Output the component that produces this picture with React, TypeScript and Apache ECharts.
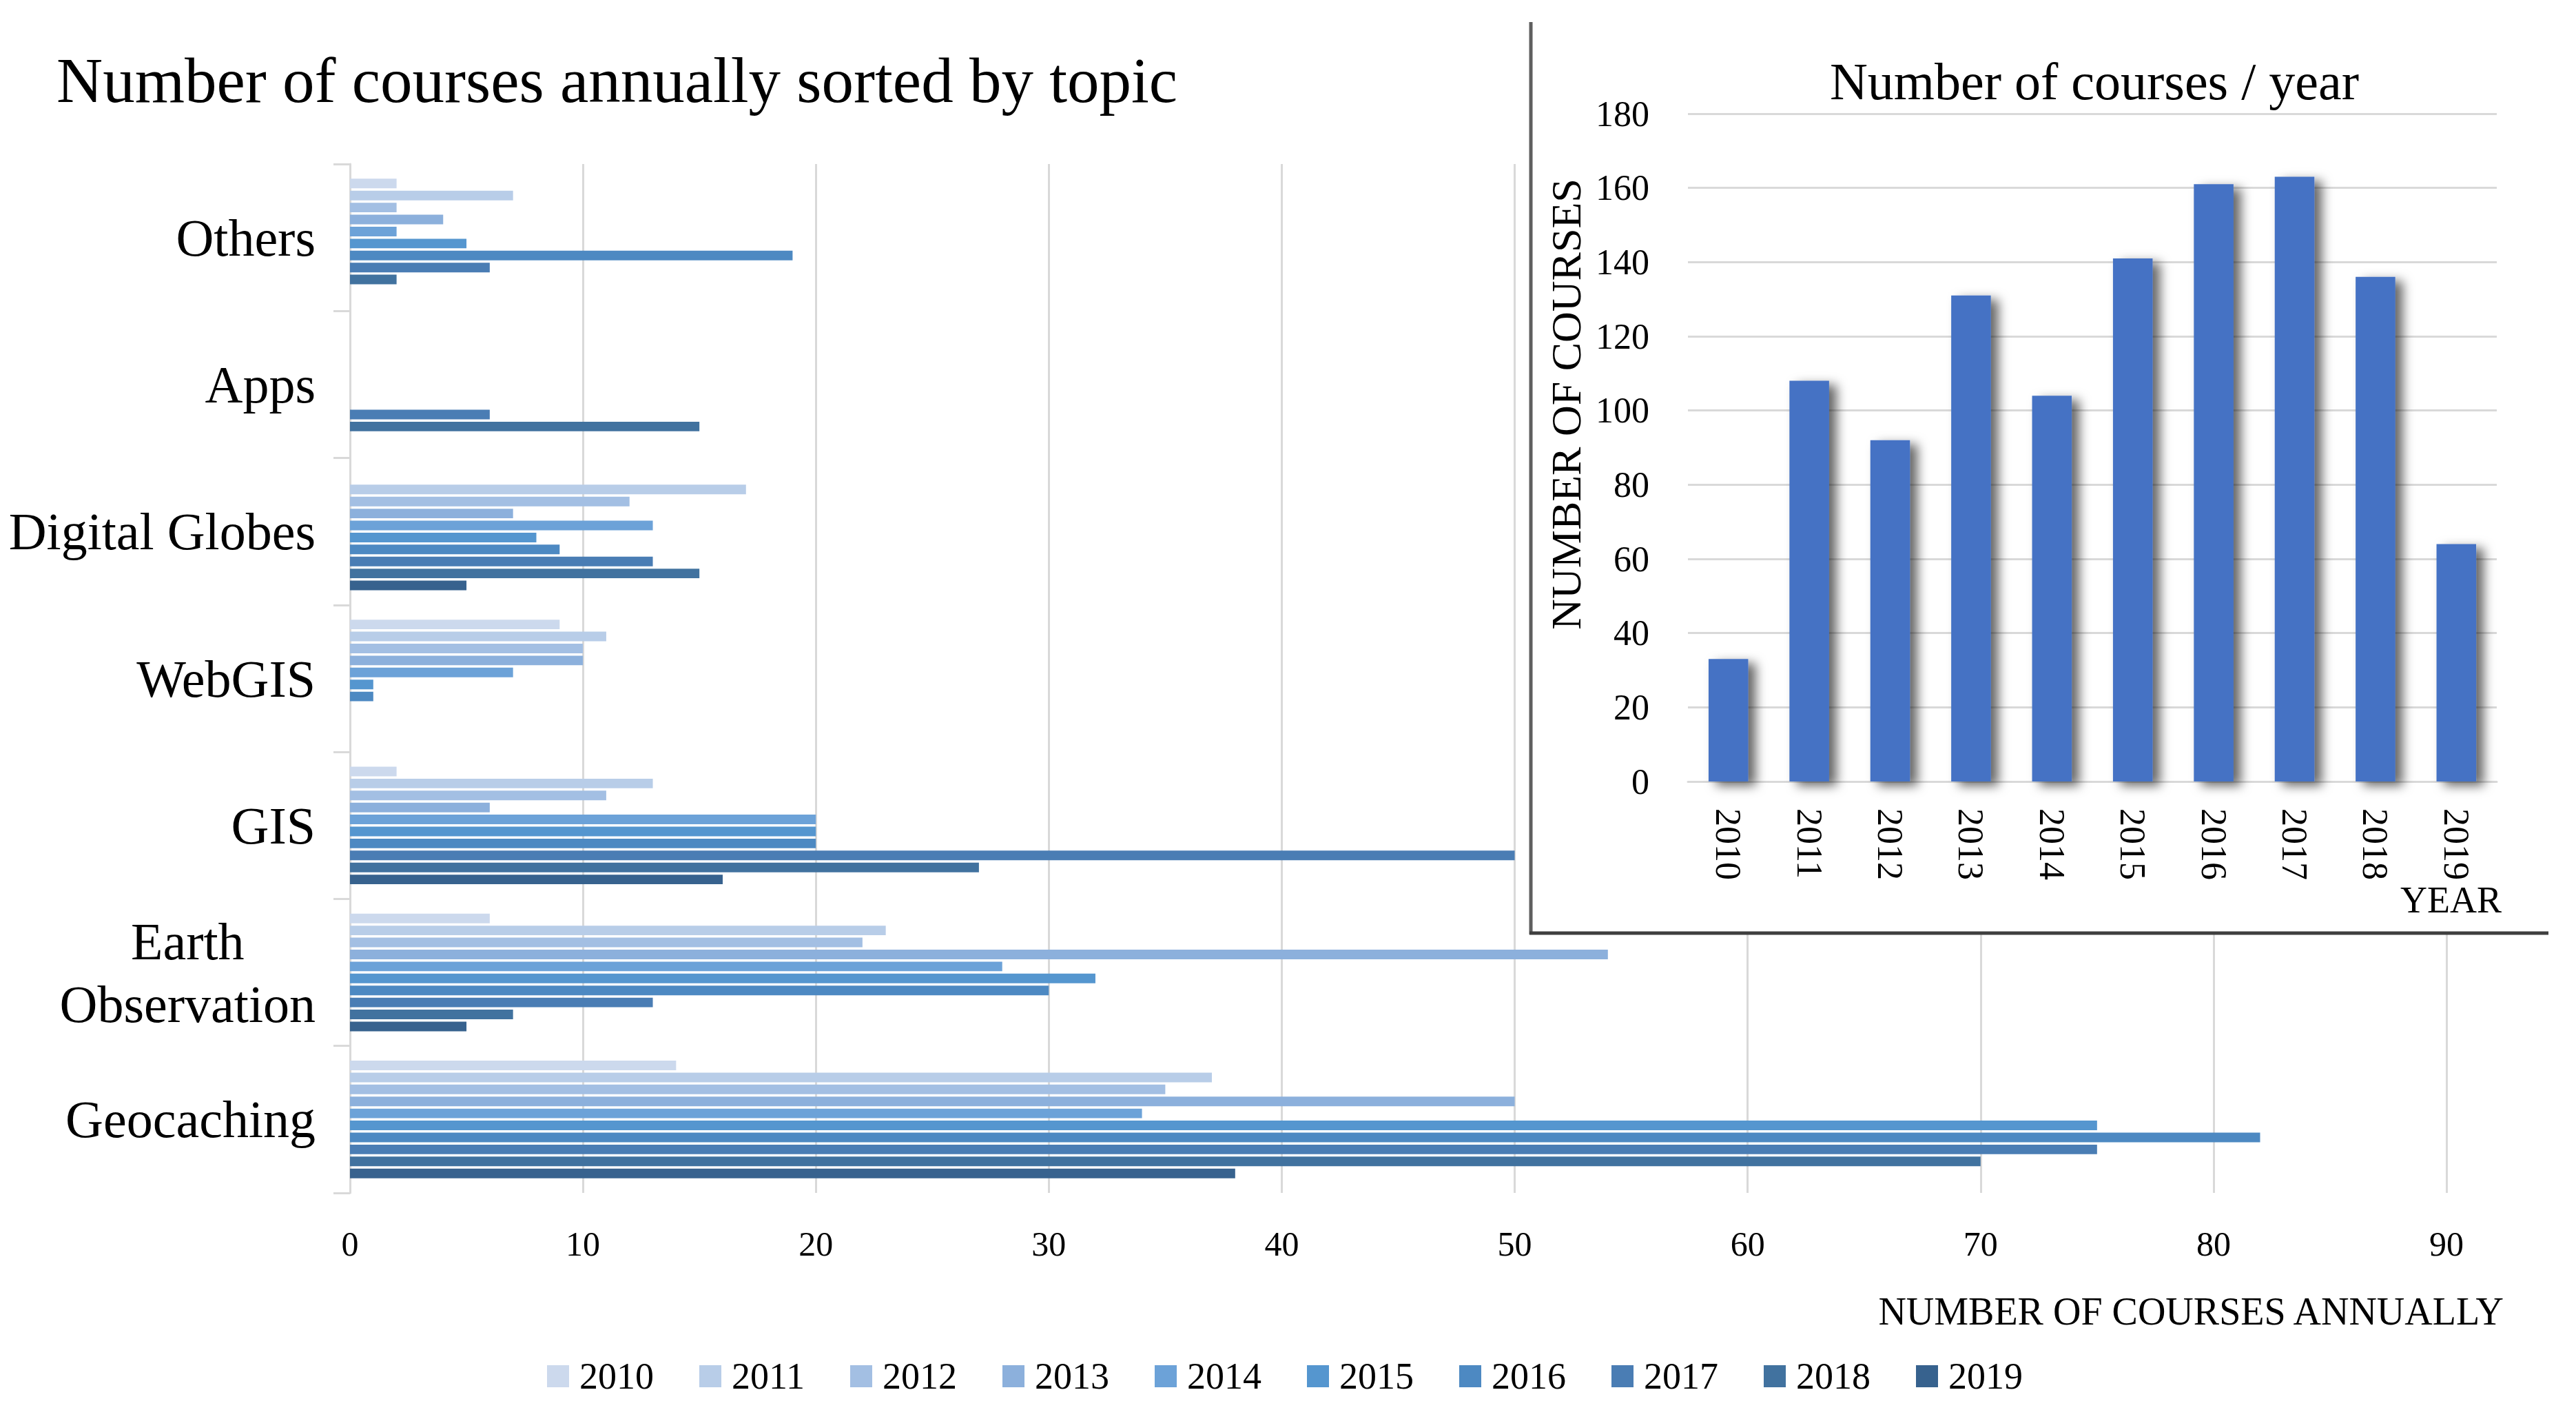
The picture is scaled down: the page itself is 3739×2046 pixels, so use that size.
import React, { useEffect, useRef } from "react";
import * as echarts from "echarts";

// ---- data ----
const years = ["2010", "2011", "2012", "2013", "2014", "2015", "2016", "2017", "2018", "2019"];
// categories listed bottom -> top (category axis starts at the bottom)
const topics = ["Geocaching", "Earth Observation", "GIS", "WebGIS", "Digital Globes", "Apps", "Others"];

// courses per topic, for 2010..2019
const geocaching = [14, 37, 35, 50, 34, 75, 82, 75, 70, 38];
const earthObservation = [6, 23, 22, 54, 28, 32, 30, 13, 7, 5];
const gis = [2, 13, 11, 6, 20, 20, 20, 50, 27, 16];
const webGis = [9, 11, 10, 10, 7, 1, 1, 0, 0, 0];
const digitalGlobes = [0, 17, 12, 7, 13, 8, 9, 13, 15, 5];
const apps = [0, 0, 0, 0, 0, 0, 0, 6, 15, 0];
const others = [2, 7, 2, 4, 2, 5, 19, 6, 2, 0];

// total courses per year (inset chart)
const totalsPerYear = [33, 108, 92, 131, 104, 141, 161, 163, 136, 64];

const mainTicks = [0, 10, 20, 30, 40, 50, 60, 70, 80, 90];
const insetTicks = [0, 20, 40, 60, 80, 100, 120, 140, 160, 180];

const yearColors = [
  "#ccd9ed", "#b8cde8", "#a3bfe3", "#8cb0dc", "#6ca2d8",
  "#5596cf", "#4d89c2", "#4a7db4", "#41729f", "#37628e",
];

const FONT = '"Liberation Serif", "DejaVu Serif", serif';

export default function App() {
  const ref = useRef<HTMLDivElement>(null);

  useEffect(() => {
    document.body.style.margin = "0";
    const chart = echarts.init(ref.current as HTMLDivElement, null, { renderer: "svg" });

    const byTopic = [geocaching, earthObservation, gis, webGis, digitalGlobes, apps, others];

    const mainSeries = years.map((y, i) => ({
      type: "bar",
      name: y,
      xAxisIndex: 0,
      yAxisIndex: 0,
      data: byTopic.map((t) => t[i]),
      barGap: "25%",
      barCategoryGap: "20%",
      itemStyle: { color: yearColors[i] },
      z: 2,
    }));

    const option: any = {
      animation: false,
      backgroundColor: "#ffffff",
      textStyle: { fontFamily: FONT, color: "#000" },
      title: [
        {
          text: "Number of courses annually sorted by topic",
          left: 82,
          top: 70,
          padding: 0,
          textStyle: { fontFamily: FONT, fontSize: 93, fontWeight: "normal", color: "#000" },
        },
        {
          text: "Number of courses / year",
          left: 3040,
          textAlign: "center",
          top: 80,
          padding: 0,
          z: 20,
          textStyle: { fontFamily: FONT, fontSize: 76, fontWeight: "normal", color: "#000" },
        },
      ],
      legend: {
        data: years,
        left: 789,
        top: 1965,
        icon: "rect",
        itemWidth: 32,
        itemHeight: 32,
        itemGap: 66,
        textStyle: { fontFamily: FONT, fontSize: 54, color: "#000", padding: [0, 0, 0, 10] },
      },
      grid: [
        { left: 508, top: 238, width: 3551 - 508, height: 1493, containLabel: false },
        { left: 2450, top: 165, width: 3624 - 2450, height: 1134 - 165, containLabel: false },
      ],
      xAxis: [
        {
          type: "value",
          gridIndex: 0,
          min: mainTicks[0],
          max: mainTicks[mainTicks.length - 1],
          interval: 10,
          axisLine: { show: false },
          axisTick: { show: false },
          axisLabel: { fontFamily: FONT, fontSize: 50, color: "#000", margin: 49 },
          splitLine: { show: true, lineStyle: { color: "#d9d9d9", width: 3 } },
        },
        {
          type: "category",
          gridIndex: 1,
          data: years,
          z: 10,
          axisLine: { show: true, lineStyle: { color: "#d9d9d9", width: 3 } },
          axisTick: { show: false },
          axisLabel: { fontFamily: FONT, fontSize: 52, color: "#000", rotate: -90, margin: 39 },
        },
      ],
      yAxis: [
        {
          type: "category",
          gridIndex: 0,
          data: topics,
          axisLine: { show: true, lineStyle: { color: "#d9d9d9", width: 3 } },
          axisTick: { show: true, length: 24, lineStyle: { color: "#d9d9d9", width: 3 } },
          axisLabel: {
            margin: 50,
            align: "right",
            formatter: (v: string) =>
              v === "Earth Observation" ? "{c|Earth}\n{c|Observation}" : `{c|${v}}`,
            rich: {
              c: { align: "center", fontFamily: FONT, fontSize: 76, lineHeight: 91, color: "#000" },
            },
          },
        },
        {
          type: "value",
          gridIndex: 1,
          min: insetTicks[0],
          max: insetTicks[insetTicks.length - 1],
          interval: 20,
          z: 10,
          name: "NUMBER OF COURSES",
          nameLocation: "middle",
          nameRotate: 90,
          nameGap: 146,
          nameTextStyle: { fontFamily: FONT, fontSize: 62, color: "#000", padding: [0, 0, 0, 126] },
          axisLine: { show: false },
          axisTick: { show: false },
          axisLabel: { fontFamily: FONT, fontSize: 52, color: "#000", margin: 56 },
          splitLine: { show: true, lineStyle: { color: "#d9d9d9", width: 3 } },
        },
      ],
      series: [
        ...mainSeries,
        {
          type: "bar",
          name: "Total",
          xAxisIndex: 1,
          yAxisIndex: 1,
          data: totalsPerYear,
          barCategoryGap: "51%",
          z: 12,
          itemStyle: {
            color: "#4472c4",
            shadowColor: "rgba(0,0,0,0.6)",
            shadowBlur: 16,
            shadowOffsetX: 11,
            shadowOffsetY: 6,
          },
        },
      ],
      graphic: [
        {
          type: "rect",
          z: 5,
          shape: { x: 2224, y: 0, width: 3739 - 2224, height: 1354 },
          style: { fill: "#ffffff" },
          silent: true,
        },
        {
          type: "line",
          z: 7,
          shape: { x1: 2222, y1: 32, x2: 2222, y2: 1356 },
          style: { stroke: "#5f5f5f", lineWidth: 5 },
        },
        {
          type: "line",
          z: 7,
          shape: { x1: 2220, y1: 1354, x2: 3699, y2: 1354 },
          style: { stroke: "#3f3f3f", lineWidth: 5 },
        },
        {
          type: "text",
          z: 20,
          x: 3631,
          y: 1306,
          style: {
            text: "YEAR",
            fill: "#000",
            fontFamily: FONT,
            fontSize: 54,
            textAlign: "right",
            textVerticalAlign: "middle",
          },
        },
        {
          type: "text",
          z: 20,
          x: 3634,
          y: 1903,
          style: {
            text: "NUMBER OF COURSES ANNUALLY",
            fill: "#000",
            fontFamily: FONT,
            fontSize: 56,
            textAlign: "right",
            textVerticalAlign: "middle",
          },
        },
      ],
    };

    chart.setOption(option);
    return () => chart.dispose();
  }, []);

  return <div ref={ref} style={{ width: 3739, height: 2046 }} />;
}
